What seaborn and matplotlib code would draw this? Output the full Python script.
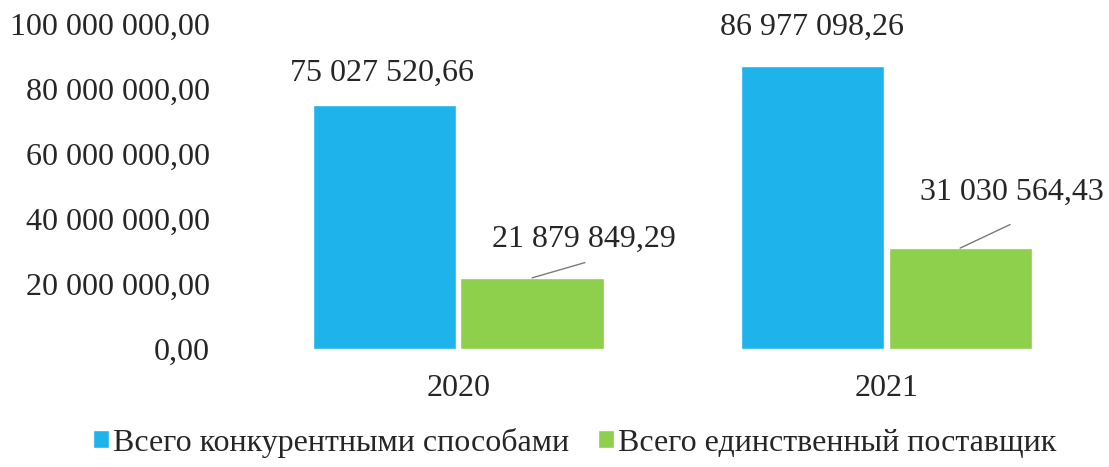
import pandas as pd
import seaborn as sns
import matplotlib
matplotlib.use('Agg')
import matplotlib.pyplot as plt

# Data
years = ['2020', '2021']
series_names = ['Всего конкурентными способами', 'Всего единственный поставщик']
competitive = [75027520.66, 86977098.26]
single_supplier = [21879849.29, 31030564.43]
y_ticks = [0, 20000000, 40000000, 60000000, 80000000, 100000000]
colors = ['#1fb3ec', '#8ecf4b']


def fmt_ru(v):
    # "75 027 520,66" style
    s = f'{v:,.2f}'
    return s.replace(',', ' ').replace('.', ',')


df = pd.DataFrame({
    'year': years * 2,
    'series': [series_names[0]] * 2 + [series_names[1]] * 2,
    'value': competitive + single_supplier,
})

sns.set_theme(style='white')
plt.rcParams['font.family'] = ['Liberation Serif', 'DejaVu Serif']

fig = plt.figure(figsize=(11.09, 4.67), dpi=100)
ax = fig.add_axes([0.2029, 0.2527, 0.796, 0.696])

sns.barplot(data=df, x='year', y='value', hue='series', palette=colors,
            saturation=1, width=0.69, gap=0.03, ax=ax, legend=True)

ax.set_xlim(-0.545, 1.5175)
ax.set_ylim(0, 100000000)
ax.set_yticks(y_ticks)
ax.set_yticklabels([fmt_ru(v) for v in y_ticks], fontsize=23)
ax.tick_params(axis='y', length=0, pad=11)
ax.tick_params(axis='x', length=0, pad=18, labelsize=23)
ax.set_xlabel('')
ax.set_ylabel('')
for sp in ax.spines.values():
    sp.set_visible(False)

# data labels
blue_c, green_c = ax.containers[0], ax.containers[1]
blue_offsets = [(-2, 23), (0, 28)]
for bar, val, off in zip(blue_c, competitive, blue_offsets):
    x = bar.get_x() + bar.get_width() / 2
    ax.annotate(fmt_ru(val), xy=(x, val), xytext=off, textcoords='offset points',
                ha='center', va='center', fontsize=23, annotation_clip=False)

green_offsets = [(37, 28), (37, 40)]
line_ends = [(38, 11), (36, 17)]
for bar, val, off, end in zip(green_c, single_supplier, green_offsets, line_ends):
    x = bar.get_x() + bar.get_width() / 2
    ax.annotate(fmt_ru(val), xy=(x, val), xytext=off, textcoords='offset points',
                ha='center', va='center', fontsize=23, annotation_clip=False)
    # leader line from bar top to the label
    ax.annotate('', xy=(x, val), xytext=end, textcoords='offset points',
                annotation_clip=False,
                arrowprops=dict(arrowstyle='-', color='#7a7a7a', lw=1,
                                shrinkA=0, shrinkB=0))

leg = ax.legend(loc='center', bbox_to_anchor=(0.518, 0.052),
                bbox_transform=fig.transFigure, ncol=2, frameon=False,
                fontsize=23, handlelength=0.5, handleheight=0.5,
                handletextpad=0.12, columnspacing=0.9)

fig.savefig('out.png', dpi=100)
